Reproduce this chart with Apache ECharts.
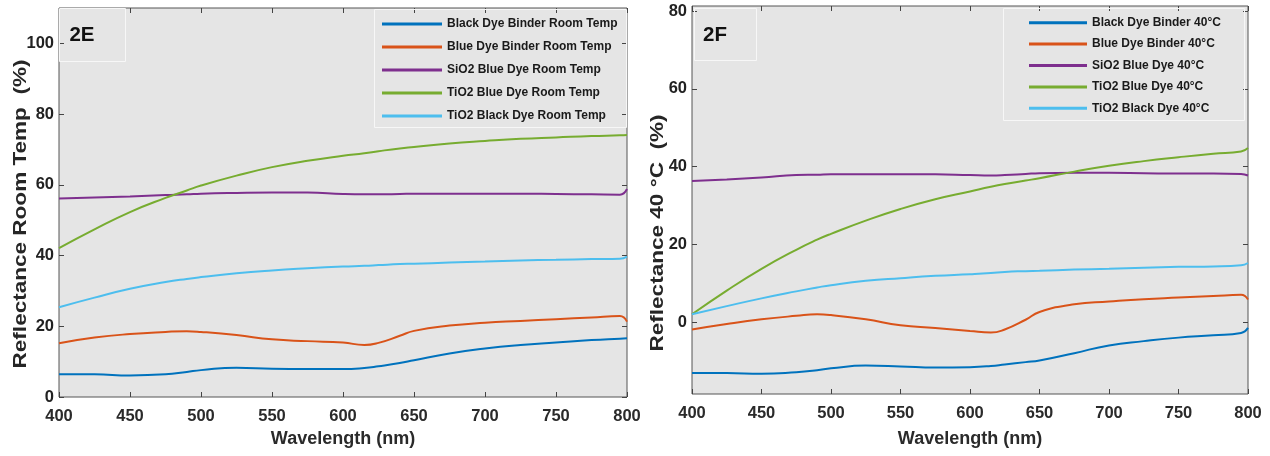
<!DOCTYPE html>
<html>
<head>
<meta charset="utf-8">
<title>Reflectance 2E / 2F</title>
<script src="https://cdn.jsdelivr.net/npm/echarts@6/dist/echarts.min.js"></script>
<style>
  html, body { margin: 0; padding: 0; background: #fff; }
  #main { width: 1270px; height: 456px; }
</style>
</head>
<body>
<div id="main"></div>
<script>
// wavelengths (nm) shared by all curves
const wavelength = [400, 425, 450, 475, 490, 500, 525, 550, 575, 600, 615, 625, 640, 650, 675, 700, 725, 750, 775, 795, 800];

// panel 2E - room temp
const namesE = ["Black Dye Binder Room Temp", "Blue Dye Binder Room Temp", "SiO2 Blue Dye Room Temp", "TiO2 Blue Dye Room Temp", "TiO2 Black Dye Room Temp"];
const blackBinderRT = [6.4, 6.4, 6.1, 6.4, 7.1, 7.6, 8.3, 8.0, 7.9, 7.9, 8.2, 8.7, 9.6, 10.4, 12.3, 13.7, 14.7, 15.4, 16.1, 16.5, 16.6];
const blueBinderRT = [15.2, 16.8, 17.8, 18.4, 18.6, 18.4, 17.5, 16.3, 15.8, 15.4, 14.7, 15.3, 17.3, 18.7, 20.2, 21.0, 21.5, 22.0, 22.5, 22.9, 21.3];
const sio2BlueRT = [56.1, 56.4, 56.7, 57.1, 57.3, 57.5, 57.7, 57.8, 57.8, 57.4, 57.3, 57.3, 57.4, 57.5, 57.5, 57.5, 57.5, 57.4, 57.3, 57.2, 58.8];
const tio2BlueRT = [42.1, 47.4, 52.3, 56.3, 58.4, 59.8, 62.6, 65.0, 66.8, 68.2, 68.9, 69.5, 70.3, 70.7, 71.7, 72.4, 73.0, 73.4, 73.8, 74.0, 74.1];
const tio2BlackRT = [25.4, 28.1, 30.6, 32.5, 33.4, 33.9, 35.0, 35.8, 36.4, 36.9, 37.1, 37.3, 37.6, 37.7, 38.0, 38.3, 38.6, 38.8, 39.0, 39.1, 39.7];

// panel 2F - 40 °C
const namesF = ["Black Dye Binder 40°C", "Blue Dye Binder 40°C", "SiO2 Blue Dye 40°C", "TiO2 Blue Dye 40°C", "TiO2 Black Dye 40°C"];
const blackBinder40 = [-13.1, -13.1, -13.3, -12.9, -12.4, -11.9, -11.2, -11.4, -11.7, -11.6, -11.3, -10.9, -10.3, -9.9, -8.0, -6.0, -4.9, -4.0, -3.4, -2.8, -1.5];
const blueBinder40 = [-1.9, -0.5, 0.7, 1.6, 2.0, 1.8, 0.7, -0.8, -1.5, -2.3, -2.7, -1.9, 0.6, 2.6, 4.6, 5.3, 5.9, 6.3, 6.7, 7.0, 5.8];
const sio2Blue40 = [36.3, 36.7, 37.2, 37.8, 37.9, 38.0, 38.0, 38.0, 38.0, 37.8, 37.7, 37.8, 38.1, 38.3, 38.4, 38.4, 38.3, 38.2, 38.2, 38.1, 37.7];
const tio2Blue40 = [2.0, 8.1, 13.7, 18.6, 21.2, 22.7, 26.1, 29.1, 31.6, 33.6, 34.8, 35.5, 36.4, 37.0, 38.7, 40.2, 41.4, 42.4, 43.3, 43.9, 44.8];
const tio2Black40 = [2.0, 4.1, 6.1, 7.9, 8.9, 9.5, 10.6, 11.3, 11.9, 12.3, 12.6, 12.9, 13.1, 13.2, 13.5, 13.7, 14.0, 14.2, 14.3, 14.6, 15.2];

const yTicksE = [0, 20, 40, 60, 80, 100];
const yTicksF = [0, 20, 40, 60, 80];

const colors = ["#0072BD", "#D95319", "#7E2F8E", "#77AC30", "#4DBEEE"];

const font = "'Liberation Sans', Arial, sans-serif";

const chart = echarts.init(document.getElementById("main"));

const grids = [
  { left: 59, top: 8, width: 568, height: 389 },
  { left: 692, top: 6, width: 556, height: 388 }
];

function xAxisOf(gridIndex, position, withLabels) {
  return {
    type: "value", gridIndex, position, min: 400, max: 800, interval: 50,
    axisLine: { show: false, onZero: false },
    axisTick: { show: true, inside: true, length: 5, lineStyle: { color: "#444" } },
    axisLabel: {
      show: withLabels, margin: 11, fontFamily: font, fontWeight: "bold",
      fontSize: 16.5, color: "#2a2a2a"
    },
    splitLine: { show: false }
  };
}

function yAxisOf(gridIndex, position, withLabels, min, max, ticks) {
  return {
    type: "value", gridIndex, position, min, max,
    axisLine: { show: false, onZero: false },
    axisTick: { show: true, inside: true, length: 5, customValues: ticks, lineStyle: { color: "#444" } },
    axisLabel: {
      show: withLabels, customValues: ticks, margin: 5, fontFamily: font,
      fontWeight: "bold", fontSize: 16.5, color: "#222"
    },
    splitLine: { show: false }
  };
}

function lineSeries(name, values, color, axisIndex) {
  return {
    name, type: "line", xAxisIndex: axisIndex, yAxisIndex: axisIndex,
    data: wavelength.map((w, i) => [w, values[i]]),
    symbol: "none", smooth: 0.5,
    lineStyle: { width: 2, color }, itemStyle: { color }
  };
}

function legendOf(names, left, top, itemWidth, gap) {
  return {
    data: names, orient: "vertical", left, top, itemWidth, itemHeight: 3,
    itemGap: gap, icon: "rect", padding: 0, selectedMode: false,
    textStyle: { fontFamily: font, fontWeight: "bold", fontSize: 12, lineHeight: 16, color: "#1a1a1a" }
  };
}

function yTitle(text, x, y) {
  return {
    type: "text", x, y, rotation: Math.PI / 2, scaleX: 1.2, scaleY: 1,
    style: { text, fontFamily: font, fontWeight: "bold", fontSize: 18.8, fill: "#262626", align: "center", verticalAlign: "middle" }
  };
}

function box(x, y, w, h) {
  return { type: "rect", shape: { x, y, width: w, height: h }, style: { fill: "none", stroke: "#f7f7f7", lineWidth: 1 }, z: 10 };
}

const option = {
  animation: false,
  backgroundColor: "#fff",
  grid: grids.map(g => Object.assign({ show: true, backgroundColor: "#e5e5e5", borderColor: "#555", borderWidth: 1 }, g)),
  xAxis: [
    Object.assign(xAxisOf(0, "bottom", true), {
      name: "Wavelength (nm)", nameLocation: "middle", nameGap: 33,
      nameTextStyle: { fontFamily: font, fontWeight: "bold", fontSize: 18, color: "#2a2a2a" }
    }),
    Object.assign(xAxisOf(1, "bottom", true), {
      name: "Wavelength (nm)", nameLocation: "middle", nameGap: 36,
      nameTextStyle: { fontFamily: font, fontWeight: "bold", fontSize: 18, color: "#2a2a2a" }
    }),
    xAxisOf(0, "top", false),
    xAxisOf(1, "top", false)
  ],
  yAxis: [
    yAxisOf(0, "left", true, 0, 110, yTicksE),
    yAxisOf(1, "left", true, -18.5, 81.3, yTicksF),
    yAxisOf(0, "right", false, 0, 110, yTicksE),
    yAxisOf(1, "right", false, -18.5, 81.3, yTicksF)
  ],
  legend: [
    legendOf(namesE, 382, 16, 60, 7),
    legendOf(namesF, 1029, 14.7, 58, 5.4)
  ],
  graphic: [
    box(374.5, 9.5, 252, 118),
    box(1003.5, 8.5, 241, 112),
    box(59.5, 8.5, 66, 53),
    box(694.5, 8.5, 62, 52),
    { type: "text", x: 82, y: 35, z: 10, style: { text: "2E", fontFamily: font, fontWeight: "bold", fontSize: 20.5, fill: "#111", align: "center", verticalAlign: "middle" } },
    { type: "text", x: 715, y: 35, z: 10, style: { text: "2F", fontFamily: font, fontWeight: "bold", fontSize: 20.5, fill: "#111", align: "center", verticalAlign: "middle" } },
    yTitle("Reflectance Room Temp  (%)", 21, 214),
    yTitle("Reflectance 40 °C  (%)", 658, 233)
  ],
  series: [
    lineSeries(namesE[0], blackBinderRT, colors[0], 0),
    lineSeries(namesE[1], blueBinderRT, colors[1], 0),
    lineSeries(namesE[2], sio2BlueRT, colors[2], 0),
    lineSeries(namesE[3], tio2BlueRT, colors[3], 0),
    lineSeries(namesE[4], tio2BlackRT, colors[4], 0),
    lineSeries(namesF[0], blackBinder40, colors[0], 1),
    lineSeries(namesF[1], blueBinder40, colors[1], 1),
    lineSeries(namesF[2], sio2Blue40, colors[2], 1),
    lineSeries(namesF[3], tio2Blue40, colors[3], 1),
    lineSeries(namesF[4], tio2Black40, colors[4], 1)
  ]
};

chart.setOption(option);
</script>
</body>
</html>
